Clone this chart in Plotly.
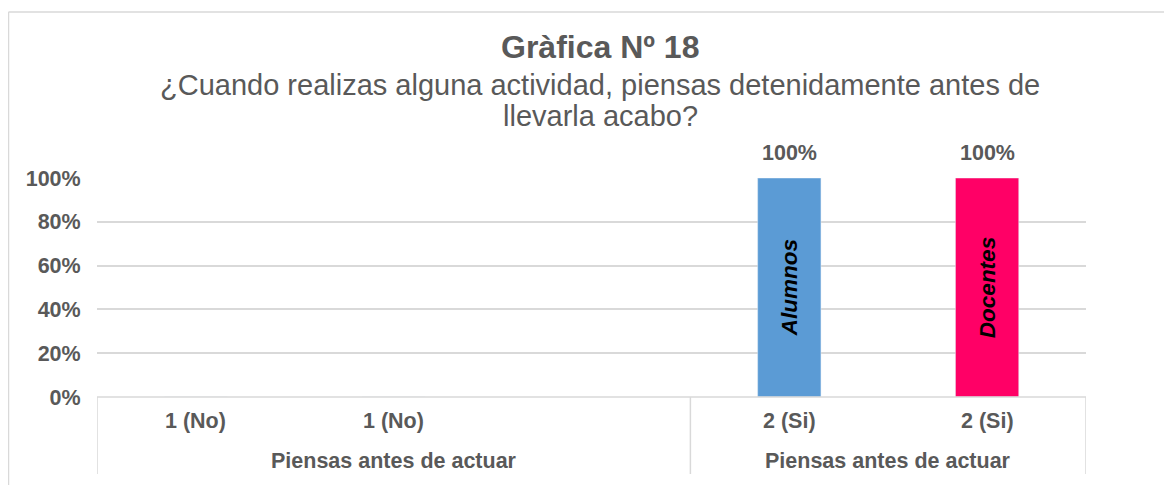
import plotly.graph_objects as go

# ---- data ----
categories = ["1 (No)", "1 (No)", "", "2 (Si)", "2 (Si)"]
group_names = ["Piensas antes de actuar", "Piensas antes de actuar"]
group_sizes = [3, 2]
series_names = ["Alumnos", "Docentes"]
alumnos = [0, None, None, 100, None]
docentes = [None, 0, None, None, 100]
series_colors = ["#5B9BD5", "#FF0066"]
y_ticks = [0, 20, 40, 60, 80, 100]

title_main = "Gràfica Nº 18"
subtitle_lines = ["¿Cuando realizas alguna actividad, piensas detenidamente antes de",
                  "llevarla acabo?"]

FONT = "Liberation Sans, Arial, sans-serif"
GRAY = "#595959"
LINE = "#D9D9D9"
LBL = 21.5

PLOT_H = 219  # plot area height in px (for paper-coordinate conversions)


def py(px_from_plot_bottom):
    return px_from_plot_bottom / PLOT_H


xs = list(range(len(categories)))
fig = go.Figure()
annotations = []
for name, vals, col in zip(series_names, [alumnos, docentes], series_colors):
    fig.add_trace(go.Bar(
        x=xs, y=vals, name=name, width=0.32, marker_color=col,
        text=[f"<b><i>{name}</i></b>" if v else "" for v in vals],
        textposition="inside", textangle=-90, insidetextanchor="middle",
        insidetextfont=dict(family=FONT, size=22.5, color="black"),
        cliponaxis=False, showlegend=False, hoverinfo="skip"))
    for i, v in enumerate(vals):
        if v:
            annotations.append(dict(x=i, y=v, xref="x", yref="y", text=f"<b>{v}%</b>",
                                    showarrow=False, yanchor="bottom", yshift=11,
                                    font=dict(family=FONT, size=LBL, color=GRAY)))

# category labels
for i, c in enumerate(categories):
    if c:
        annotations.append(dict(x=i, y=0, xref="x", yref="paper", text=f"<b>{c}</b>",
                                showarrow=False, yanchor="middle", yshift=-24,
                                font=dict(family=FONT, size=LBL, color=GRAY)))
# group labels + separators
shapes = []
start = -0.5
bounds = [start]
for g, n in zip(group_names, group_sizes):
    center = start + n / 2
    annotations.append(dict(x=center, y=0, xref="x", yref="paper", text=f"<b>{g}</b>",
                            showarrow=False, yanchor="middle", yshift=-64,
                            font=dict(family=FONT, size=LBL, color=GRAY)))
    start += n
    bounds.append(start)
for b in bounds:
    shapes.append(dict(type="line", xref="x", yref="paper", x0=b, x1=b, y0=0, y1=py(-77),
                       line=dict(color=LINE, width=1.5)))
shapes.append(dict(type="line", xref="x", yref="paper", x0=-0.5, x1=len(categories) - 0.5,
                   y0=0, y1=0, line=dict(color=LINE, width=1.5)))
# outer chart border
shapes.append(dict(type="line", xref="paper", yref="paper", x0=-0.0895, x1=-0.0895,
                   y0=py(-120), y1=py(385), line=dict(color=LINE, width=1.5)))
shapes.append(dict(type="line", xref="paper", yref="paper", x0=-0.0895, x1=1.2,
                   y0=py(385), y1=py(385), line=dict(color=LINE, width=1.5)))

# titles
annotations.append(dict(x=0.5086, y=py(350), xref="paper", yref="paper", text=f"<b>{title_main}</b>",
                        showarrow=False, yanchor="middle",
                        font=dict(family=FONT, size=32, color=GRAY)))
for k, line in enumerate(subtitle_lines):
    annotations.append(dict(x=0.5086, y=py(312 - 31 * k), xref="paper", yref="paper", text=line,
                            showarrow=False, yanchor="middle",
                            font=dict(family=FONT, size=29, color=GRAY)))

fig.update_layout(
    width=1164, height=477,
    margin=dict(l=89, r=86, t=170, b=88),
    paper_bgcolor="white", plot_bgcolor="white",
    barmode="overlay",
    xaxis=dict(range=[-0.5, len(categories) - 0.5], showticklabels=False, showgrid=False,
               zeroline=False, showline=False, fixedrange=True),
    yaxis=dict(range=[0, 100], tickvals=y_ticks, ticktext=[f"<b>{t}%</b>" for t in y_ticks],
               showgrid=True, gridcolor=LINE, gridwidth=1.5, zeroline=False, showline=False,
               ticks="outside", ticklen=11, tickcolor="rgba(0,0,0,0)",
               tickfont=dict(family=FONT, size=LBL, color=GRAY)),
    annotations=annotations, shapes=shapes,
)

fig.write_html("out.html")
